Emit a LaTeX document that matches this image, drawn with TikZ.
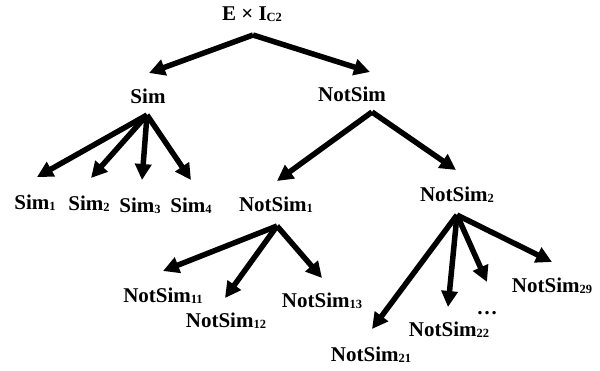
\documentclass[tikz,border=0pt]{standalone}
\usepackage{fontspec}
\setmainfont{Liberation Serif}
\usetikzlibrary{arrows.meta,calc}
\newcommand\subidx[1]{\raisebox{-1.5pt}{\fontsize{12.5}{12.5}\selectfont #1}}
\begin{document}
\begin{tikzpicture}[x=1pt,y=-1pt,
  lbl/.style={anchor=base,inner sep=0pt,text height=14pt,text depth=0pt,
              font=\fontsize{21}{21}\selectfont\bfseries},
  arr/.style={line width=5.5pt,-{Triangle[length=16pt,width=16pt]}}]
  \useasboundingbox[fill=white] (0,0) rectangle (600,370);

  % labels
  \node[lbl] (root)  at (252,20)  {E × I\subidx{C2}};
  \node[lbl] (sim)   at (148,103) {Sim};
  \node[lbl] (ns)    at (352,101) {NotSim};
  \node[lbl] (sim1)  at (35,209)  {Sim\subidx{1}};
  \node[lbl] (sim2)  at (89,210)  {Sim\subidx{2}};
  \node[lbl] (sim3)  at (140,212) {Sim\subidx{3}};
  \node[lbl] (sim4)  at (191,212) {Sim\subidx{4}};
  \node[lbl] (ns1)   at (276,211) {NotSim\subidx{1}};
  \node[lbl] (ns2)   at (457,201) {NotSim\subidx{2}};
  \node[lbl] (ns11)  at (163,302) {NotSim\subidx{11}};
  \node[lbl] (ns12)  at (226,327) {NotSim\subidx{12}};
  \node[lbl] (ns13)  at (322,307) {NotSim\subidx{13}};
  \node[lbl] (ns21)  at (371,361) {NotSim\subidx{21}};
  \node[lbl] (ns22)  at (449,336) {NotSim\subidx{22}};
  \node[lbl] (dots)  at (487,314) {…};
  \node[lbl] (ns29)  at (552,292) {NotSim\subidx{29}};

  % outgoing points below each parent
  \coordinate (rootOut) at ($(root.base)+(1,15)$);
  \coordinate (simOut)  at ($(sim.base)+(-1,12)$);
  \coordinate (nsOut)   at ($(ns.base)+(20,11)$);
  \coordinate (ns1Out)  at ($(ns1.base)+(1,15)$);
  \coordinate (ns2Out)  at ($(ns2.base)+(0,14)$);

  % edges
  \draw[arr] (rootOut) -- ($(sim.base)+(1,-30)$);
  \draw[arr] (rootOut) -- ($(ns.base)+(18,-29)$);

  \draw[arr] (simOut) -- ($(sim1.base)+(2,-32)$);
  \draw[arr] (simOut) -- ($(sim2.base)+(2,-32)$);
  \draw[arr] (simOut) -- ($(sim3.base)+(2,-32)$);
  \draw[arr] (simOut) -- ($(sim4.base)+(0,-32)$);

  \draw[arr] (nsOut) -- ($(ns1.base)+(1,-30)$);
  \draw[arr] (nsOut) -- ($(ns2.base)+(-1,-31)$);

  \draw[arr] (ns1Out) -- ($(ns11.base)+(0,-31)$);
  \draw[arr] (ns1Out) -- ($(ns12.base)+(-1,-29)$);
  \draw[arr] (ns1Out) -- ($(ns13.base)+(0,-29)$);

  \draw[arr] (ns2Out) -- ($(ns21.base)+(1,-32)$);
  \draw[arr] (ns2Out) -- ($(ns22.base)+(-1,-29)$);
  \draw[arr] (ns2Out) -- ($(dots.base)+(0,-32)$);
  \draw[arr] (ns2Out) -- ($(ns29.base)+(0,-30)$);
\end{tikzpicture}
\end{document}
